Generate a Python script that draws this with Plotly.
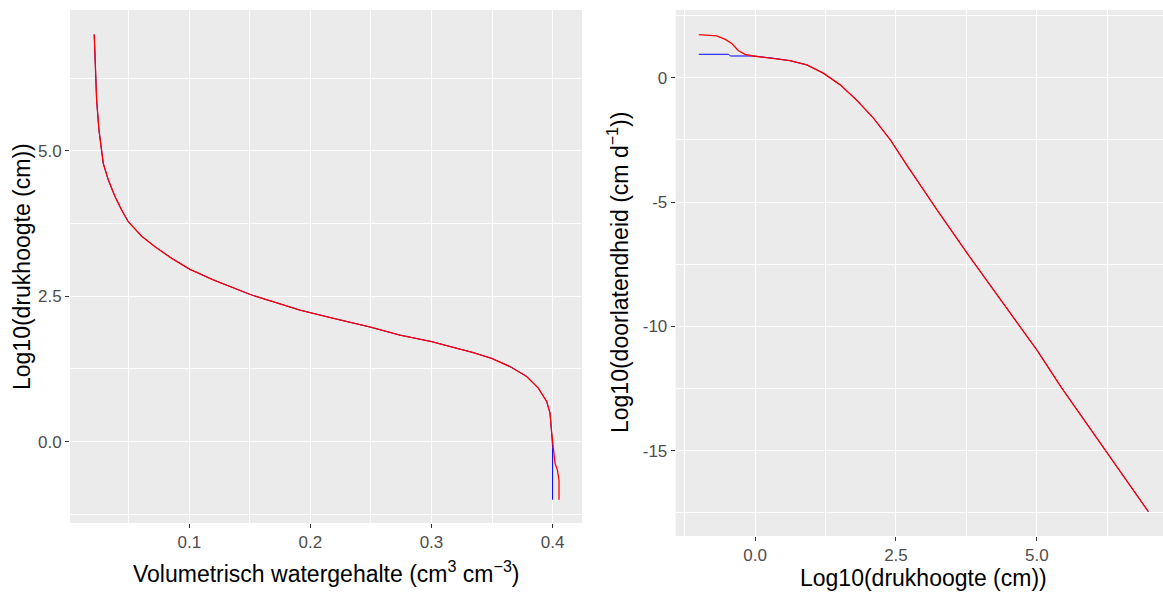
import plotly.graph_objects as go

# Water retention curve: volumetric water content vs log10 pressure head
theta_blue = [0.0215, 0.0224, 0.0235, 0.0254, 0.0277, 0.0290, 0.0331, 0.0387, 0.0442, 0.0496,
              0.0607, 0.0717, 0.0855, 0.1006, 0.1198, 0.1350, 0.1515, 0.1776, 0.1914, 0.2190,
              0.2490, 0.2740, 0.3000, 0.3180, 0.3345, 0.3497, 0.3648, 0.3786, 0.3882, 0.3951,
              0.3979, 0.3993, 0.4000, 0.4000]
logh_blue = [7.00, 6.44, 5.87, 5.36, 5.01, 4.78, 4.50, 4.21, 3.98, 3.78,
             3.53, 3.35, 3.15, 2.96, 2.78, 2.66, 2.52, 2.35, 2.26, 2.12,
             1.97, 1.83, 1.72, 1.62, 1.53, 1.43, 1.29, 1.12, 0.92, 0.69,
             0.49, 0.14, -0.10, -1.00]

theta_red = [0.0215, 0.0224, 0.0235, 0.0254, 0.0277, 0.0290, 0.0331, 0.0387, 0.0442, 0.0496,
             0.0607, 0.0717, 0.0855, 0.1006, 0.1198, 0.1350, 0.1515, 0.1776, 0.1914, 0.2190,
             0.2490, 0.2740, 0.3000, 0.3180, 0.3345, 0.3497, 0.3648, 0.3786, 0.3882, 0.3951,
             0.3979, 0.3993, 0.4007, 0.4020, 0.4040, 0.4053, 0.4053]
logh_red = [7.00, 6.44, 5.87, 5.36, 5.01, 4.78, 4.50, 4.21, 3.98, 3.78,
            3.53, 3.35, 3.15, 2.96, 2.78, 2.66, 2.52, 2.35, 2.26, 2.12,
            1.97, 1.83, 1.72, 1.62, 1.53, 1.43, 1.29, 1.12, 0.92, 0.69,
            0.49, 0.14, -0.20, -0.37, -0.49, -0.66, -1.00]

# Hydraulic conductivity curve: log10 pressure head vs log10 conductivity
hk_blue = [-1.00, -0.47, -0.44, -0.06, -0.03, 0.33, 0.62, 0.92, 1.21, 1.51, 1.80, 2.10,
           2.40, 2.69, 2.99, 3.25, 3.76, 4.35, 5.00, 5.44, 6.24, 6.98]
logk_blue = [0.94, 0.94, 0.87, 0.86, 0.87, 0.78, 0.68, 0.51, 0.18, -0.29, -0.90, -1.63,
             -2.50, -3.51, -4.52, -5.39, -7.05, -8.90, -10.95, -12.47, -15.04, -17.45]

hk_red = [-1.00, -0.86, -0.68, -0.53, -0.41, -0.30, -0.18, -0.03, 0.33, 0.62, 0.92, 1.21,
          1.51, 1.80, 2.10, 2.40, 2.69, 2.99, 3.25, 3.76, 4.35, 5.00, 5.44, 6.24, 6.98]
logk_red = [1.73, 1.72, 1.68, 1.54, 1.36, 1.09, 0.94, 0.87, 0.78, 0.68, 0.51, 0.18,
            -0.29, -0.90, -1.63, -2.50, -3.51, -4.52, -5.39, -7.05, -8.90, -10.95, -12.47,
            -15.04, -17.45]

k_tickvals = [-15, -10, -5, 0]
k_ticktext = ["-15", "-10", "-5", "0"]

W, H = 1163, 592
FONT = "Liberation Sans, Arial, sans-serif"


def fx(px):
    return px / W


def fy(py):
    return 1 - py / H


fig = go.Figure()
fig.add_trace(go.Scatter(x=theta_blue, y=logh_blue, mode="lines",
                         line=dict(color="#0000FF", width=1.0), xaxis="x", yaxis="y",
                         showlegend=False, hoverinfo="skip"))
fig.add_trace(go.Scatter(x=theta_red, y=logh_red, mode="lines",
                         line=dict(color="#FF0000", width=1.3), xaxis="x", yaxis="y",
                         showlegend=False, hoverinfo="skip"))
fig.add_trace(go.Scatter(x=hk_blue, y=logk_blue, mode="lines",
                         line=dict(color="#0000FF", width=1.0), xaxis="x2", yaxis="y2",
                         showlegend=False, hoverinfo="skip"))
fig.add_trace(go.Scatter(x=hk_red, y=logk_red, mode="lines",
                         line=dict(color="#FF0000", width=1.3), xaxis="x2", yaxis="y2",
                         showlegend=False, hoverinfo="skip"))


def axis(**kw):
    minor = kw.pop("minor")
    base = dict(showgrid=True, gridcolor="white", gridwidth=1.4, zeroline=False,
                showline=False, ticks="outside", ticklen=4, tickwidth=1,
                tickcolor="#333333", tickfont=dict(size=17, color="#4D4D4D", family=FONT),
                minor=dict(showgrid=True, gridcolor="white", gridwidth=0.7, ticks="", **minor))
    base.update(kw)
    return base


fig.update_layout(
    width=W, height=H,
    margin=dict(l=0, r=0, t=0, b=0),
    paper_bgcolor="white",
    plot_bgcolor="#EBEBEB",
    font=dict(family=FONT),
    xaxis=axis(domain=[fx(70), fx(582)], range=[0.0015, 0.4243], anchor="y",
               tickmode="linear", tick0=0, dtick=0.1, tickformat=".1f",
               minor=dict(tick0=0, dtick=0.05)),
    yaxis=axis(domain=[fy(523), fy(10)], range=[-1.40, 7.42], anchor="x",
               tickmode="linear", tick0=0, dtick=2.5, tickformat=".1f",
               minor=dict(tick0=0, dtick=1.25)),
    xaxis2=axis(domain=[fx(675.7), 1.0], range=[-1.41, 7.24], anchor="y2",
                tickmode="linear", tick0=0, dtick=2.5, tickformat=".1f",
                minor=dict(tick0=0, dtick=1.25)),
    yaxis2=axis(domain=[fy(536), fy(10)], range=[-18.43, 2.72], anchor="x2",
                tickmode="array", tickvals=k_tickvals, ticktext=k_ticktext,
                minor=dict(tick0=0, dtick=2.5)),
)

title_font = dict(size=23, color="black", family=FONT)
fig.add_annotation(text="Volumetrisch watergehalte (cm<sup>3</sup> cm<sup>−3</sup>)",
                   x=fx(326), y=fy(572), xref="paper", yref="paper",
                   xanchor="center", yanchor="middle", showarrow=False, font=title_font)
fig.add_annotation(text="Log10(drukhoogte (cm))",
                   x=fx(923), y=fy(578), xref="paper", yref="paper",
                   xanchor="center", yanchor="middle", showarrow=False, font=title_font)
fig.add_annotation(text="Log10(drukhoogte (cm))", textangle=-90,
                   x=fx(22.5), y=fy(266.5), xref="paper", yref="paper",
                   xanchor="center", yanchor="middle", showarrow=False, font=title_font)
fig.add_annotation(text="Log10(doorlatendheid (cm d<sup>−1</sup>))", textangle=-90,
                   x=fx(618), y=fy(273), xref="paper", yref="paper",
                   xanchor="center", yanchor="middle", showarrow=False, font=title_font)

fig.write_html("out.html")
